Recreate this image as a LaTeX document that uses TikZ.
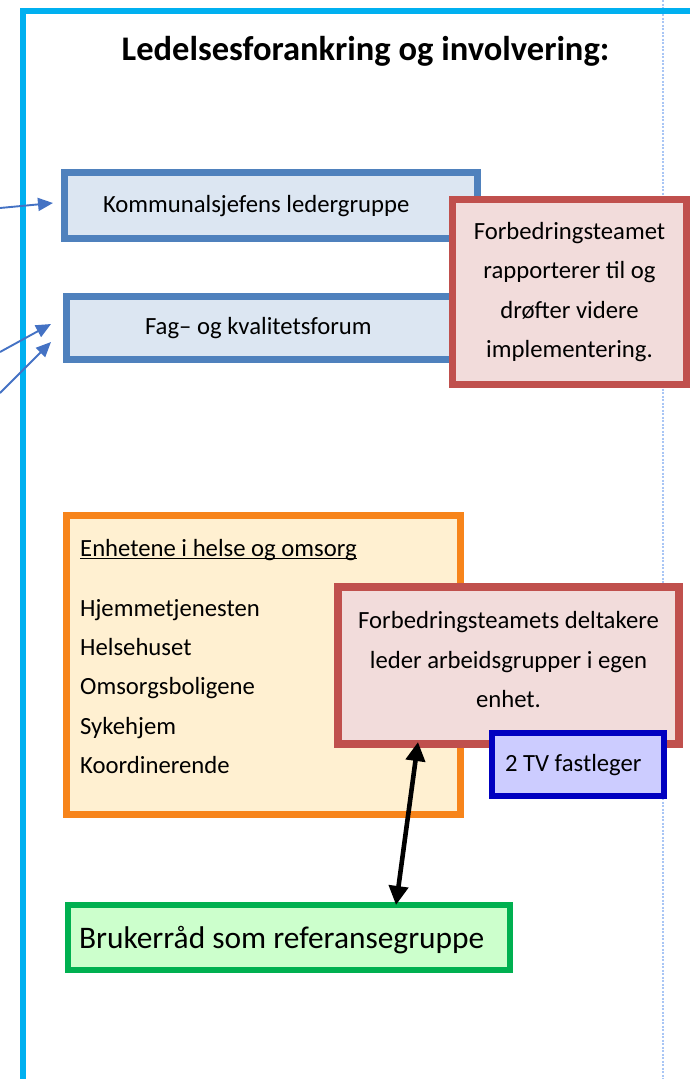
\documentclass[tikz,border=0pt]{standalone}
\usepackage{fontspec}
\setmainfont{Carlito}
\usetikzlibrary{arrows.meta}
\definecolor{framecyan}{HTML}{00B0F0}
\definecolor{dotblue}{HTML}{A9C6F5}
\definecolor{bbord}{HTML}{4F81BD}
\definecolor{bfill}{HTML}{DCE6F2}
\definecolor{rbord}{HTML}{C0504D}
\definecolor{rfill}{HTML}{F2DCDB}
\definecolor{obord}{HTML}{F7841A}
\definecolor{ofill}{HTML}{FFF0D1}
\definecolor{tvbord}{HTML}{0000C0}
\definecolor{tvfill}{HTML}{CCCCFF}
\definecolor{gbord}{HTML}{00B050}
\definecolor{gfill}{HTML}{CCFFCC}
\definecolor{arrblue}{HTML}{4472C4}
\newcommand\myuline[1]{\leavevmode\setbox0\hbox{#1}\rlap{\rule[-2.6pt]{\wd0}{1.1pt}}\box0}
\tikzset{
  boxbase/.style={draw, rectangle, inner sep=0pt, anchor=center, text=black},
  bodytext/.style={font=\fontsize{24.7}{39.4}\selectfont},
  oneline/.style={text height=18pt, text depth=5pt},
  bluebox/.style={boxbase, line width=7pt, draw=bbord, fill=bfill},
  redbox/.style={boxbase, draw=rbord, fill=rfill, align=center},
  orangebox/.style={boxbase, line width=7pt, draw=obord, fill=ofill},
  tvbox/.style={boxbase, line width=6pt, draw=tvbord, fill=tvfill},
  greenbox/.style={boxbase, line width=6pt, draw=gbord, fill=gfill},
  inarrow/.style={draw=arrblue, line width=1.9pt, -{Triangle[length=15pt,width=13pt]}},
  dblarrow/.style={draw=black, line width=4.6pt, {Triangle[length=19pt,width=19pt]}-{Triangle[length=19pt,width=19pt]}},
}
\begin{document}
\begin{tikzpicture}[x=1pt,y=1pt]
\useasboundingbox (0,0) rectangle (690,-1079);
% page frame
\draw[dotblue, line width=1.6pt, dash pattern=on 2pt off 1.5pt] (663,0) -- (663,-1079);
\draw[framecyan, line width=6pt] (23,-1085) -- (23,-11) -- (695,-11);
% title
\node[font=\bfseries\fontsize{34.5}{40}\selectfont, anchor=base, inner sep=0pt] (title) at (365.5,-60) {Ledelsesforankring og involvering:};
% top boxes
\node[bluebox, bodytext, oneline, minimum width=413pt, minimum height=66pt] (kom) at (271,-205.5) {\makebox[336pt][l]{Kommunalsjefens ledergruppe}};
\node[bluebox, bodytext, oneline, minimum width=392pt, minimum height=63pt] (fag) at (262.5,-328) {\makebox[235pt][l]{Fag– og kvalitetsforum}};
\node[redbox, line width=7pt, bodytext, minimum width=234pt, minimum height=185pt] (rapp) at (569.5,-292) {Forbedringsteamet\\rapporterer til og\\drøfter videre\\implementering.};
% incoming arrows
\coordinate (s1) at (0,-208);
\coordinate (s2) at (0,-352);
\coordinate (s3) at (0,-393);
\draw[inarrow] (s1) -- ([xshift=-8pt,yshift=2.5pt]kom.west);
\draw[inarrow] (s2) -- ([xshift=-12pt,yshift=4pt]fag.west);
\draw[inarrow] (s3) -- ([xshift=-12pt,yshift=-14pt]fag.west);
% units box
\node[orangebox, minimum width=394pt, minimum height=299pt] (units) at (263.5,-665) {};
\node[bodytext, anchor=base west, inner sep=0pt] (unitstxt) at (80,-556) {\parbox[t]{330pt}{\myuline{Enhetene i helse og omsorg}\\[20.6pt]Hjemmetjenesten\\Helsehuset\\Omsorgsboligene\\Sykehjem\\Koordinerende}};
\node[redbox, line width=8pt, bodytext, minimum width=341pt, minimum height=157pt] (leder) at (508.5,-665.5) {Forbedringsteamets deltakere\\leder arbeidsgrupper i egen\\enhet.\strut};
\node[tvbox, bodytext, oneline, minimum width=172pt, minimum height=63pt] (tv) at (578,-764.5) {\makebox[146pt][l]{2 TV fastleger}};
% user council
\node[greenbox, font=\fontsize{31.4}{36}\selectfont, text height=21pt, text depth=0pt, minimum width=442pt, minimum height=65pt] (bruk) at (289,-937.5) {\makebox[420pt][l]{Brukerråd som referansegruppe}};
\draw[dblarrow] ([xshift=84pt,yshift=6pt]leder.south west) -- ([xshift=331pt,yshift=-3pt]bruk.north west);
\end{tikzpicture}
\end{document}
